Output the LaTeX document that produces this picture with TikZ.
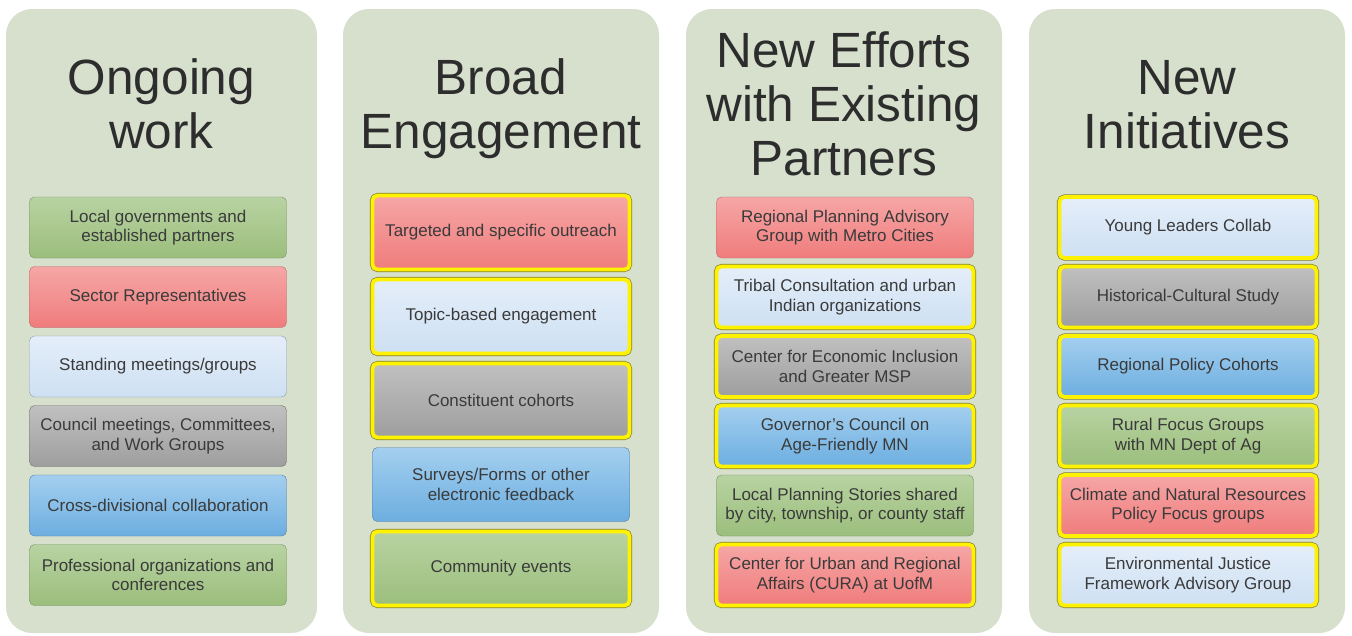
\documentclass[tikz,border=0pt]{standalone}
\usepackage{fontspec}
\setmainfont{Liberation Sans}
\usepackage{tikz}
\usepackage{xcolor}
\usetikzlibrary{positioning}

\definecolor{panelbg}{RGB}{214,224,205}
\definecolor{titlegray}{RGB}{45,45,45}
\definecolor{boxtext}{RGB}{58,58,58}
\definecolor{hledge}{RGB}{130,130,50}
\definecolor{grntop}{RGB}{184,211,162}
\definecolor{grnbot}{RGB}{155,190,124}
\definecolor{grnedge}{RGB}{118,146,96}
\definecolor{redtop}{RGB}{246,166,166}
\definecolor{redbot}{RGB}{240,124,124}
\definecolor{rededge}{RGB}{186,104,104}
\definecolor{lbltop}{RGB}{228,238,249}
\definecolor{lblbot}{RGB}{206,224,243}
\definecolor{lbledge}{RGB}{140,152,168}
\definecolor{grytop}{RGB}{192,192,192}
\definecolor{grybot}{RGB}{158,158,158}
\definecolor{gryedge}{RGB}{110,110,110}
\definecolor{blutop}{RGB}{164,207,239}
\definecolor{blubot}{RGB}{108,174,224}
\definecolor{bluedge}{RGB}{82,122,160}

\begin{document}
\begin{tikzpicture}[x=1pt,y=-1pt,
  panel/.style={fill=panelbg,rounded corners=26pt,minimum width=316pt,minimum height=624pt,inner sep=0pt},
  ttl/.style={text=titlegray,align=center,inner sep=0pt,anchor=north,font=\fontsize{49.5}{54}\selectfont},
  box/.style={draw=#1edge,top color=#1top,bottom color=#1bot,rounded corners=5pt,minimum width=257pt,minimum height=61pt,inner sep=2pt,align=center,text=boxtext,font=\fontsize{17}{19.5}\selectfont},
  tall/.style={minimum height=74pt},
  hl/.style={draw=yellow,line width=3.8pt,preaction={draw=hledge,line width=5.2pt}}]
      \useasboundingbox (0,0) rectangle (1352,635);

      % columns
      \node[panel,minimum width=311pt] (p1) at (161.5,321) {};
      \node[panel] (p2) at (501,321) {};
      \node[panel] (p3) at (844,321) {};
      \node[panel] (p4) at (1187,321) {};

      \node[ttl] (t1) at (161.5,56) {\strut Ongoing\\work};
      \node[ttl] (t2) at (501,56) {\strut Broad\\Engagement};
      \node[ttl] (t3) at (844,29) {\strut New Efforts\\with Existing\\Partners};
      \node[ttl] (t4) at (1187,56) {\strut New\\Initiatives};

      % ongoing work
      \node[box=grn] (a1) at (158,227.5) {Local governments and\\established partners};
      \node[box=red] (a2) at (158,297) {Sector Representatives};
      \node[box=lbl] (a3) at (158,366.5) {Standing meetings/groups};
      \node[box=gry] (a4) at (158,436) {Council meetings, Committees,\\and Work Groups};
      \node[box=blu] (a5) at (158,505.5) {Cross-divisional collaboration};
      \node[box=grn] (a6) at (158,575) {Professional organizations and\\conferences};

      % broad engagement
      \node[box=red,tall,hl] (b1) at (501,232.5) {Targeted and specific outreach};
      \node[box=lbl,tall,hl] (b2) at (501,316.5) {Topic-based engagement};
      \node[box=gry,tall,hl] (b3) at (501,400.5) {Constituent cohorts};
      \node[box=blu,tall] (b4) at (501,484.5) {Surveys/Forms or other\\electronic feedback};
      \node[box=grn,tall,hl] (b5) at (501,568.5) {Community events};

      % new efforts with existing partners
      \node[box=red] (c1) at (845,227.5) {Regional Planning Advisory\\Group with Metro Cities};
      \node[box=lbl,hl] (c2) at (845,297) {Tribal Consultation and urban\\Indian organizations};
      \node[box=gry,hl] (c3) at (845,366.5) {Center for Economic Inclusion\\and Greater MSP};
      \node[box=blu,hl] (c4) at (845,436) {Governor’s Council on\\Age-Friendly MN};
      \node[box=grn] (c5) at (845,505.5) {Local Planning Stories shared\\by city, township, or county staff};
      \node[box=red,hl] (c6) at (845,575) {Center for Urban and Regional\\Affairs (CURA) at UofM};

      % new initiatives
      \node[box=lbl,hl] (d1) at (1188,227.5) {Young Leaders Collab};
      \node[box=gry,hl] (d2) at (1188,297) {Historical-Cultural Study};
      \node[box=blu,hl] (d3) at (1188,366.5) {Regional Policy Cohorts};
      \node[box=grn,hl] (d4) at (1188,436) {Rural Focus Groups\\with MN Dept of Ag};
      \node[box=red,hl] (d5) at (1188,505.5) {Climate and Natural Resources\\Policy Focus groups};
      \node[box=lbl,hl] (d6) at (1188,575) {Environmental Justice\\Framework Advisory Group};
\end{tikzpicture}
\end{document}
